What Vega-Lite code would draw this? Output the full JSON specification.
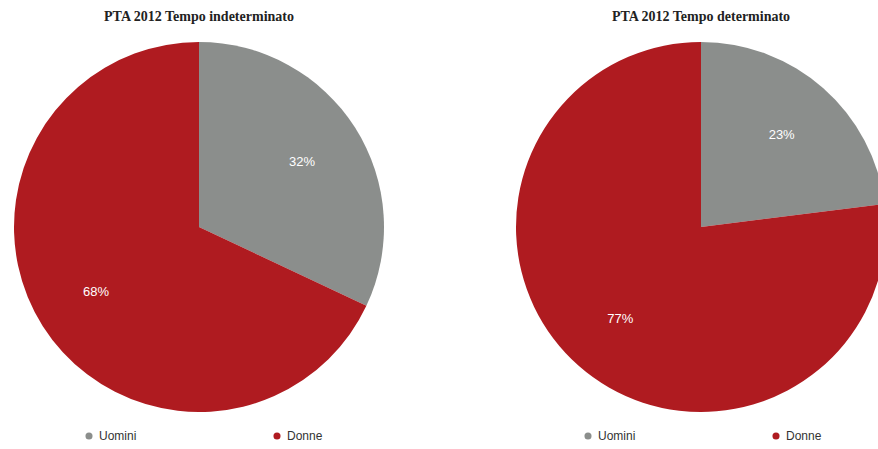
{
  "$schema": "https://vega.github.io/schema/vega-lite/v6.json",
  "background": "white",
  "padding": {"left": 0, "top": 10, "right": 0, "bottom": 0},
  "datasets": {
    "pta": [
      {"contratto": "indeterminato", "genere": "Uomini", "quota": 0.32},
      {"contratto": "indeterminato", "genere": "Donne", "quota": 0.68},
      {"contratto": "determinato", "genere": "Uomini", "quota": 0.23},
      {"contratto": "determinato", "genere": "Donne", "quota": 0.77}
    ]
  },
  "data": {"name": "pta"},
  "spacing": 118,
  "hconcat": [
    {
      "width": 398,
      "height": 370,
      "title": {"text": "PTA 2012 Tempo indeterminato"},
      "transform": [{"filter": "datum.contratto === 'indeterminato'"}],
      "layer": [
        {
          "mark": {"type": "arc", "radius": 185},
          "encoding": {
            "theta": {"field": "quota", "type": "quantitative", "stack": true},
            "order": {"field": "genere", "sort": "descending"},
            "color": {
              "field": "genere", "type": "nominal",
              "scale": {"domain": ["Uomini", "Donne"], "range": ["#8b8e8c", "#af1b20"]},
              "legend": {"legendX": 83, "legendY": 388}
            }
          }
        },
        {
          "mark": {"type": "text", "radius": 122, "color": "white", "fontSize": 13, "font": "Liberation Sans"},
          "encoding": {
            "theta": {"field": "quota", "type": "quantitative", "stack": true},
            "order": {"field": "genere", "sort": "descending"},
            "text": {"field": "quota", "type": "quantitative", "format": ".0%"}
          }
        }
      ]
    },
    {
      "width": 354,
      "height": 370,
      "title": {"text": "PTA 2012 Tempo determinato"},
      "transform": [{"filter": "datum.contratto === 'determinato'"}],
      "layer": [
        {
          "mark": {"type": "arc", "radius": 185},
          "encoding": {
            "theta": {"field": "quota", "type": "quantitative", "stack": true},
            "order": {"field": "genere", "sort": "descending"},
            "color": {
              "field": "genere", "type": "nominal",
              "scale": {"domain": ["Uomini", "Donne"], "range": ["#8b8e8c", "#af1b20"]},
              "legend": {"legendX": 58, "legendY": 388}
            }
          }
        },
        {
          "mark": {"type": "text", "radius": 122, "color": "white", "fontSize": 13, "font": "Liberation Sans"},
          "encoding": {
            "theta": {"field": "quota", "type": "quantitative", "stack": true},
            "order": {"field": "genere", "sort": "descending"},
            "text": {"field": "quota", "type": "quantitative", "format": ".0%"}
          }
        }
      ]
    }
  ],
  "resolve": {"legend": {"color": "independent"}},
  "config": {
    "view": {"stroke": null},
    "title": {"font": "Liberation Serif", "fontSize": 14, "fontWeight": "bold", "color": "#222222", "offset": 18, "anchor": "middle"},
    "legend": {
      "orient": "none",
      "direction": "horizontal",
      "title": null,
      "symbolType": "circle",
      "symbolSize": 50,
      "symbolStrokeWidth": 0,
      "labelFont": "Liberation Sans",
      "labelFontSize": 12,
      "labelColor": "#333333",
      "columnPadding": 134
    }
  }
}
